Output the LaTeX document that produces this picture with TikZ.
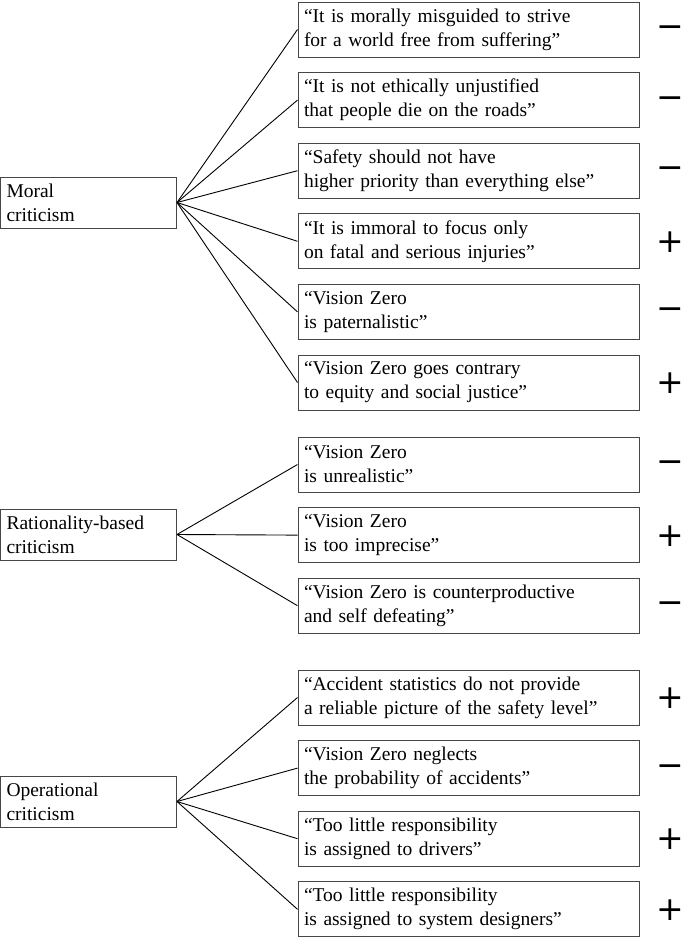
\documentclass[tikz,border=0pt]{standalone}
\usepackage{fontspec}
\setmainfont{Liberation Serif}
\newfontfamily\signfont{DejaVu Sans}
\usepackage{tikz}
\usetikzlibrary{positioning, calc}
\definecolor{framegray}{RGB}{70, 70, 70}

\begin{document}
\begin{tikzpicture}[
    x=1pt, y=-1pt,
    node distance=14.6pt,
    topic/.style={rectangle, draw=framegray, line width=1pt, inner xsep=6pt, inner ysep=0pt,
                text width=164pt, minimum height=51pt, align=left,
                font=\fontsize{19.5}{24}\selectfont},
    quote/.style={rectangle, draw=framegray, line width=1pt, inner xsep=6pt, inner ysep=0pt,
                text width=329pt, minimum height=55pt, align=left,
                font=\fontsize{19.5}{24}\selectfont},
    sign/.style={inner sep=0pt, anchor=base, font=\signfont\fontsize{33}{33}\selectfont},
    plus/.style={sign},
    minus/.style={sign, yshift=3pt},
    link/.style={line width=0.9pt, black}
]
\useasboundingbox (0,0) rectangle (685,938);

% Criticism types
\node[topic] (moral) at (88.5,202.5) {Moral\\criticism};
\node[topic] (ratio) at (88.5,534.5) {Rationality-based\\criticism};
\node[topic] (oper) at (88.5,801.5) {Operational\\criticism};

% Moral claims
\node[quote] (q1) at (468.5,29.5) {“It is morally misguided to strive\\for a world free from suffering”};
\node[quote, below=of q1] (q2) {“It is not ethically unjustified\\that people die on the roads”};
\node[quote, below=of q2] (q3) {“Safety should not have\\higher priority than everything else”};
\node[quote, below=of q3] (q4) {“It is immoral to focus only\\on fatal and serious injuries”};
\node[quote, below=of q4] (q5) {“Vision Zero\\is paternalistic”};
\node[quote, below=of q5] (q6) {“Vision Zero goes contrary\\to equity and social justice”};

% Rationality-based claims
\node[quote, below=26pt of q6] (q7) {“Vision Zero\\is unrealistic”};
\node[quote, below=of q7] (q8) {“Vision Zero\\is too imprecise”};
\node[quote, below=of q8] (q9) {“Vision Zero is counterproductive\\and self defeating”};

% Operational claims
\node[quote, below=35.8pt of q9] (q10) {“Accident statistics do not provide\\a reliable picture of the safety level”};
\node[quote, below=of q10] (q11) {“Vision Zero neglects\\the probability of accidents”};
\node[quote, below=of q11] (q12) {“Too little responsibility\\is assigned to drivers”};
\node[quote, below=of q12] (q13) {“Too little responsibility\\is assigned to system designers”};

% Signs
\node[minus] (s1) at ([xshift=31pt, yshift=-11pt]q1.east) {−};
\node[minus] (s2) at ([xshift=31pt, yshift=-11pt]q2.east) {−};
\node[minus] (s3) at ([xshift=31pt, yshift=-11pt]q3.east) {−};
\node[plus] (s4) at ([xshift=31pt, yshift=-11pt]q4.east) {+};
\node[minus] (s5) at ([xshift=31pt, yshift=-11pt]q5.east) {−};
\node[plus] (s6) at ([xshift=31pt, yshift=-11pt]q6.east) {+};
\node[minus] (s7) at ([xshift=31pt, yshift=-11pt]q7.east) {−};
\node[plus] (s8) at ([xshift=31pt, yshift=-11pt]q8.east) {+};
\node[minus] (s9) at ([xshift=31pt, yshift=-11pt]q9.east) {−};
\node[plus] (s10) at ([xshift=31pt, yshift=-11pt]q10.east) {+};
\node[minus] (s11) at ([xshift=31pt, yshift=-11pt]q11.east) {−};
\node[plus] (s12) at ([xshift=31pt, yshift=-11pt]q12.east) {+};
\node[plus] (s13) at ([xshift=31pt, yshift=-11pt]q13.east) {+};

% Links
\draw[link] (moral.east) -- (q1.west);
\draw[link] (moral.east) -- (q2.west);
\draw[link] (moral.east) -- (q3.west);
\draw[link] (moral.east) -- (q4.west);
\draw[link] (moral.east) -- (q5.west);
\draw[link] (moral.east) -- (q6.west);

\draw[link] (ratio.east) -- (q7.west);
\draw[link] (ratio.east) -- (q8.west);
\draw[link] (ratio.east) -- (q9.west);

\draw[link] (oper.east) -- (q10.west);
\draw[link] (oper.east) -- (q11.west);
\draw[link] (oper.east) -- (q12.west);
\draw[link] (oper.east) -- (q13.west);

\end{tikzpicture}
\end{document}
